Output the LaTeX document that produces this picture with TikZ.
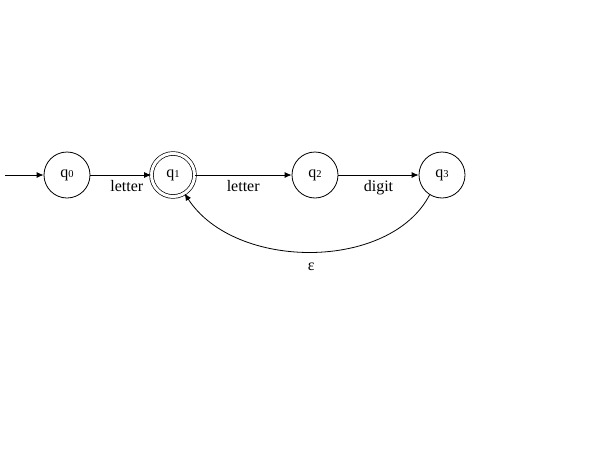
\documentclass[tikz,border=0pt]{standalone}
\usepackage{fontspec}
\setmainfont{Liberation Serif}
\usetikzlibrary{arrows.meta}
\newcommand{\stname}[1]{q{\fontsize{10.5}{10.5}\selectfont #1}}
\begin{document}
\begin{tikzpicture}[x=1pt,y=-1pt,
  every node/.style={font=\fontsize{16}{19}\selectfont},
  state/.style={draw,circle,minimum size=46pt,inner sep=0pt,line width=0.8pt},
  accepting/.style={double,double distance=3pt,line width=0.7pt,minimum size=43pt},
  trans/.style={draw,line width=0.8pt,-{Latex[length=7pt,width=6pt]}},
  lbl/.style={below=2pt}]
  \useasboundingbox[fill=white] (0,0) rectangle (600,450);
  % states
  \node[state] (q0) at (67,175) {\stname{0}};
  \node[state,accepting] (q1) at (173,175) {\stname{1}};
  \node[state] (q2) at (315,175) {\stname{2}};
  \node[state] (q3) at (442,175) {\stname{3}};
  \coordinate (start) at (5,175);
  % transitions
  \draw[trans] (start) -- (q0);
  \draw[trans] (q0) -- node[lbl,xshift=6pt] {letter} (q1);
  \draw[trans] (q1) -- node[lbl] {letter} (q2);
  \draw[trans] (q2) -- node[lbl] {digit} (q3);
  \draw[trans] (q3.-122) .. controls (390,271) and (235,271) .. node[below=7pt] {ε} (q1.-58);
\end{tikzpicture}
\end{document}
